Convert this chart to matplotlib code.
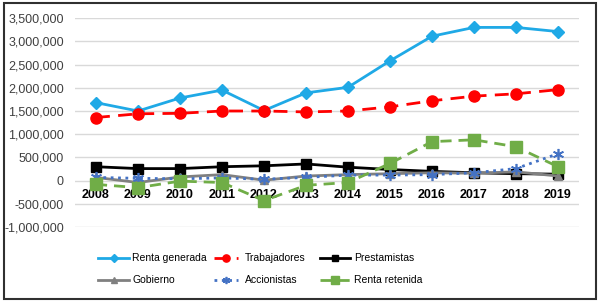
import numpy as np
import matplotlib.pyplot as plt
from matplotlib.patches import Rectangle
from matplotlib.ticker import FuncFormatter

plt.rcParams['font.family'] = ['Liberation Sans', 'DejaVu Sans']

# Datos
years = [2008, 2009, 2010, 2011, 2012, 2013, 2014, 2015, 2016, 2017, 2018, 2019]
renta_generada = [1680000, 1500000, 1780000, 1950000, 1510000, 1890000, 2010000, 2580000, 3110000, 3300000, 3300000, 3210000]
trabajadores = [1360000, 1440000, 1450000, 1500000, 1500000, 1480000, 1500000, 1590000, 1720000, 1820000, 1870000, 1960000]
prestamistas = [300000, 260000, 260000, 300000, 320000, 360000, 290000, 240000, 200000, 170000, 150000, 140000]
gobierno = [70000, -40000, 80000, 130000, 10000, 100000, 130000, 150000, 170000, 160000, 190000, 100000]
accionistas = [70000, 50000, 40000, 60000, 30000, 70000, 120000, 120000, 130000, 170000, 260000, 580000]
renta_retenida = [-80000, -150000, -10000, -40000, -430000, -100000, -40000, 370000, 840000, 880000, 730000, 300000]

fig = plt.figure(figsize=(6.0, 3.02), dpi=100)
ax = fig.add_axes([0.125, 0.248, 0.84, 0.692])

l1, = ax.plot(years, renta_generada, color='#1FA9E6', lw=2, marker='D', ms=6, label='Renta generada', zorder=3)
l2, = ax.plot(years, trabajadores, color='#FF0000', lw=2, ls=(0, (5, 3)), marker='o', ms=8, label='Trabajadores', zorder=3)
l3, = ax.plot(years, prestamistas, color='black', lw=2, marker='s', ms=7, label='Prestamistas', zorder=3)
l4, = ax.plot(years, gobierno, color='#808080', lw=2, marker='^', ms=6, label='Gobierno', zorder=3)
l5, = ax.plot(years, accionistas, color='#4472C4', lw=2, ls=':', marker=(6, 2, 0), ms=8, mew=1.2,
              label='Accionistas', zorder=3)
l6, = ax.plot(years, renta_retenida, color='#70AD47', lw=2, ls=(0, (4, 2.5)), marker='s', ms=8,
              label='Renta retenida', zorder=3)

ax.set_xlim(2007.5, 2019.5)
ax.set_ylim(-1000000, 3500000)
ax.set_yticks(np.arange(-1000000, 3500001, 500000))
ax.yaxis.set_major_formatter(FuncFormatter(lambda v, p: f'{int(v):,}'))
ax.set_xticks(years)
ax.grid(axis='y', color='#D9D9D9', lw=1, zorder=0)
for s in ['left', 'right', 'top']:
    ax.spines[s].set_visible(False)
ax.spines['bottom'].set_position(('data', 0))
ax.spines['bottom'].set_visible(False)
ax.tick_params(axis='y', length=0, labelsize=9, pad=8, labelcolor='#404040')
ax.tick_params(axis='x', length=0, labelsize=9, pad=6)
for t in ax.get_xticklabels():
    t.set_fontweight('bold')

# leyenda en tres columnas fijas, como en el original
cols = [([l1, l4], 98, 3.0, 0.3), ([l2, l5], 214, 2.3, 0.7), ([l3, l6], 320, 2.9, 0.4)]
for hs, x0, hl, tp in cols:
    lg = fig.legend(handles=hs, labels=[h.get_label() for h in hs],
                    loc='lower left', bbox_to_anchor=(x0 / 600, 0.055), frameon=False,
                    fontsize=7.5, handlelength=hl, handletextpad=tp, borderpad=0,
                    borderaxespad=0, labelspacing=1.15, markerscale=0.65)

fig.patches.append(Rectangle((0.006, 0.01), 0.988, 0.98, transform=fig.transFigure,
                             fill=False, edgecolor='#303030', lw=1.5))

fig.savefig('out.png', dpi=100)
